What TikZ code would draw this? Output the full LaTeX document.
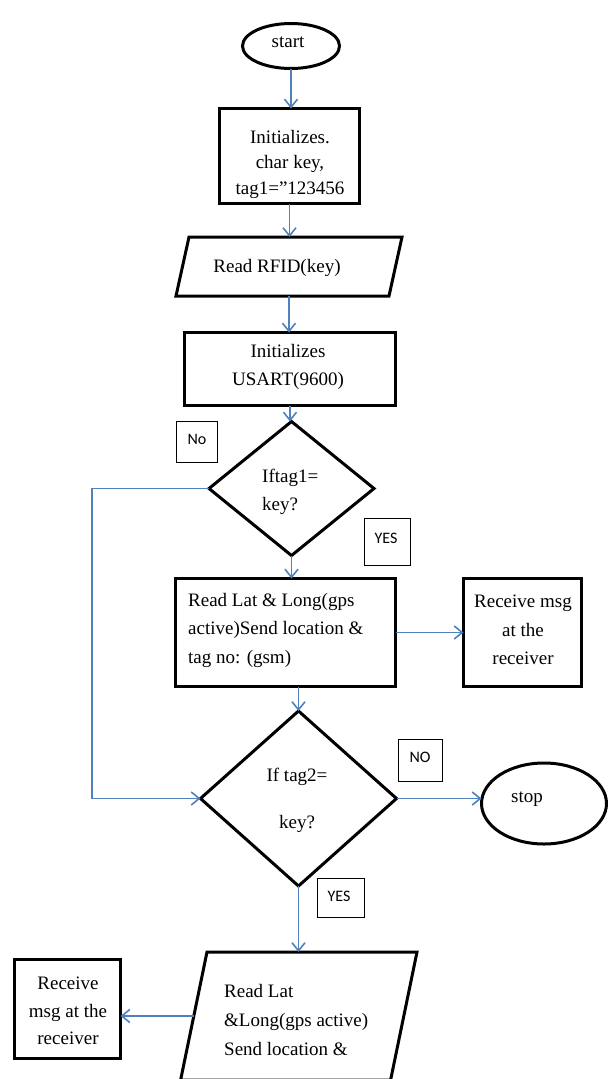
\documentclass[tikz,border=0pt]{standalone}
\usepackage{fontspec}
\setmainfont{Liberation Serif}
\newfontfamily\lblfont{Carlito}
\usetikzlibrary{shapes.geometric,arrows.meta}
\definecolor{flowblue}{HTML}{4F81BD}
\begin{document}
\begin{tikzpicture}[x=1pt,y=-1pt,
  box/.style={draw=black,line width=3pt,rectangle,inner sep=0pt,outer sep=0pt},
  term/.style={draw=black,line width=3pt,ellipse,inner sep=0pt,outer sep=0pt},
  decide/.style={draw=black,line width=3pt,diamond,inner sep=0pt,outer sep=0pt},
  ioshape/.style={draw=black,line width=3pt,line join=miter},
  lblbox/.style={draw=black,line width=1.5pt,rectangle,inner sep=0pt,outer sep=0pt},
  lbltext/.style={inner sep=0pt,font=\lblfont\fontsize{16}{18}\selectfont},
  txt/.style={inner sep=0pt,font=\fontsize{19}{28}\selectfont,align=center},
  txtl/.style={inner sep=0pt,font=\fontsize{19}{28}\selectfont,align=left},
  flow/.style={draw=flowblue,line width=1.6pt,-{Straight Barb[length=8pt,width=13pt,line width=1.6pt]}}
]
\useasboundingbox (0,0) rectangle (610,1079);
\clip (0,0) rectangle (610,1079);

% shapes
\node[term,minimum width=97pt,minimum height=45pt] (start) at (291,46) {};
\node[txt] (tstart) at (288,42) {start};

\node[box,minimum width=140pt,minimum height=95pt] (box1) at (289.5,156) {};
\node[txt,font=\fontsize{19}{25.5}\selectfont] (tbox1) at (290,164) {Initializes.\\char key,\\tag1=”123456};

% parallelogram 1
\coordinate (p1a) at (189,237);
\coordinate (p1b) at (402,237);
\coordinate (p1c) at (389,296);
\coordinate (p1d) at (176,296);
\draw[ioshape] (p1a) -- (p1b) -- (p1c) -- (p1d) -- cycle;
\coordinate (par1n) at (289,237);
\coordinate (par1s) at (289,296);
\node[txt] (tpar1) at (277,268) {Read RFID(key)};

\node[box,minimum width=211pt,minimum height=73pt] (box2) at (290,369) {};
\node[txt] (tbox2) at (288,367) {Initializes\\USART(9600)};

\node[decide,minimum width=165pt,minimum height=134pt] (d1) at (291.5,488.5) {};
\node[txtl,anchor=west] (td1) at (262,492) {Iftag1=\\key?};

\node[box,minimum width=220pt,minimum height=108pt] (box3) at (285.5,632.5) {};
\node[txtl,anchor=west,font=\fontsize{19}{28.5}\selectfont] (tbox3) at (188,630) {Read Lat \& Long(gps\\active)Send location \&\\tag no: (gsm)};

\node[box,minimum width=118pt,minimum height=108pt] (recv1) at (522.5,632.5) {};
\node[txt,font=\fontsize{19}{28.5}\selectfont] (trecv1) at (523,630) {Receive msg\\at the\\receiver};

\node[decide,minimum width=196pt,minimum height=175pt] (d2) at (298.5,798.5) {};
\node[txt,font=\fontsize{19}{47}\selectfont] (td2) at (297,800) {If tag2=\\key?};

\node[term,minimum width=125pt,minimum height=81pt] (stop) at (544,803.5) {};
\node[txt] (tstop) at (527,799) {stop};

% parallelogram 2 (cut by the lower edge)
\coordinate (p2a) at (207,952);
\coordinate (p2b) at (417,952);
\coordinate (p2c) at (390.6,1080);
\coordinate (p2d) at (180.6,1080);
\draw[ioshape] (p2a) -- (p2b) -- (p2c) -- (p2d) -- cycle;
\coordinate (par2n) at (298.5,952);
\coordinate (par2w) at (193.8,1016);
\node[txtl,anchor=west,font=\fontsize{19}{29}\selectfont] (tpar2) at (224,1020) {Read Lat\\\&Long(gps active)\\Send location \&};

\node[box,minimum width=106pt,minimum height=99pt] (recv2) at (67.5,1009) {};
\node[txt,font=\fontsize{19}{27.5}\selectfont] (trecv2) at (68,1011) {Receive\\msg at the\\receiver};

% label boxes
\node[lblbox,minimum width=41pt,minimum height=41pt] (no1) at (197,442) {};
\node[lbltext] (tno1) at (197,439) {No};
\node[lblbox,minimum width=46pt,minimum height=47pt] (yes1) at (387.5,542) {};
\node[lbltext] (tyes1) at (386,538) {YES};
\node[lblbox,minimum width=44pt,minimum height=42pt] (no2) at (420.5,760.5) {};
\node[lbltext] (tno2) at (420,757) {NO};
\node[lblbox,minimum width=47pt,minimum height=39pt] (yes2) at (341,898) {};
\node[lbltext] (tyes2) at (339,896) {YES};

% connectors
\coordinate (loop) at (92,488.5);
\draw[flow] (start.south) -- (start.south |- box1.north);
\draw[flow] (box1.south) -- (box1.south |- par1n);
\draw[flow] (par1s) -- (par1s |- box2.north);
\draw[flow] (box2.south) -- (box2.south |- d1.north);
\draw[flow] (d1.south) -- (d1.south |- box3.north);
\draw[flow] (box3.east) -- (recv1.west);
\draw[flow] (box3.south -| d2.north) -- (d2.north);
\draw[flow] (d1.west) -- (loop) |- (d2.west);
\draw[flow] (d2.east) -- (d2.east -| stop.west);
\draw[flow] (d2.south) -- (par2n);
\draw[flow] (par2w) -- (par2w -| recv2.east);
\end{tikzpicture}
\end{document}
